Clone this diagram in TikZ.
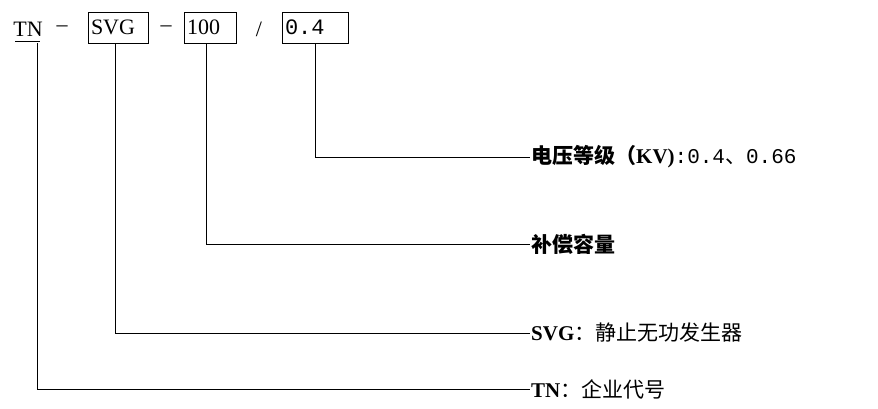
\documentclass[tikz,border=0pt]{standalone}
\usepackage{fontspec}
\setmainfont{Liberation Serif}
\newfontfamily\cjk{Noto Sans CJK SC}
\newfontfamily\mono{Liberation Mono}
\begin{document}
\begin{tikzpicture}[x=1pt,y=-1pt,
  box/.style={draw,line width=0.8pt,minimum height=31pt,text width=#1,inner xsep=3pt,align=left,font=\fontsize{22}{24}\selectfont},
  txt/.style={inner sep=0pt,font=\fontsize{22}{24}\selectfont},
  lab/.style={anchor=west,inner sep=1pt,font=\fontsize{21}{24}\selectfont},
  ln/.style={line width=0.8pt}]
\useasboundingbox (0,0) rectangle (878,408);
\node[txt] (tn) at (28,29) {TN};
\draw[ln] (15,41) -- (40,41);
\node[txt] at (62,29) {–};
\node[box=54pt] (svg) at (118,27.5) {SVG};
\node[txt] at (166,29) {–};
\node[box=46pt] (h) at (210,27.5) {100};
\node[txt] at (259,29) {/};
\node[box=60pt] (v) at (315,27.5) {{\mono 0.4}};
\coordinate (c1) at (37,43);
\node[lab] (l1) at (530,389) {\textbf{TN}{\cjk ：企业代号}};
\node[lab] (l2) at (530,333) {\textbf{SVG}{\cjk ：静止无功发生器}};
\node[lab] (l3) at (530,244) {{\cjk\bfseries 补偿容量}};
\node[lab] (l4) at (530,157) {{\cjk\bfseries 电压等级（}\textbf{KV)}{\mono :0.4}{\cjk 、}{\mono 0.66}};
\draw[ln] (c1) |- (l1.west);
\draw[ln] (svg.south -| 115,0) |- (l2.west);
\draw[ln] (h.south -| 206,0) |- (l3.west);
\draw[ln] (v.south -| 315,0) |- (l4.west);
\end{tikzpicture}
\end{document}
